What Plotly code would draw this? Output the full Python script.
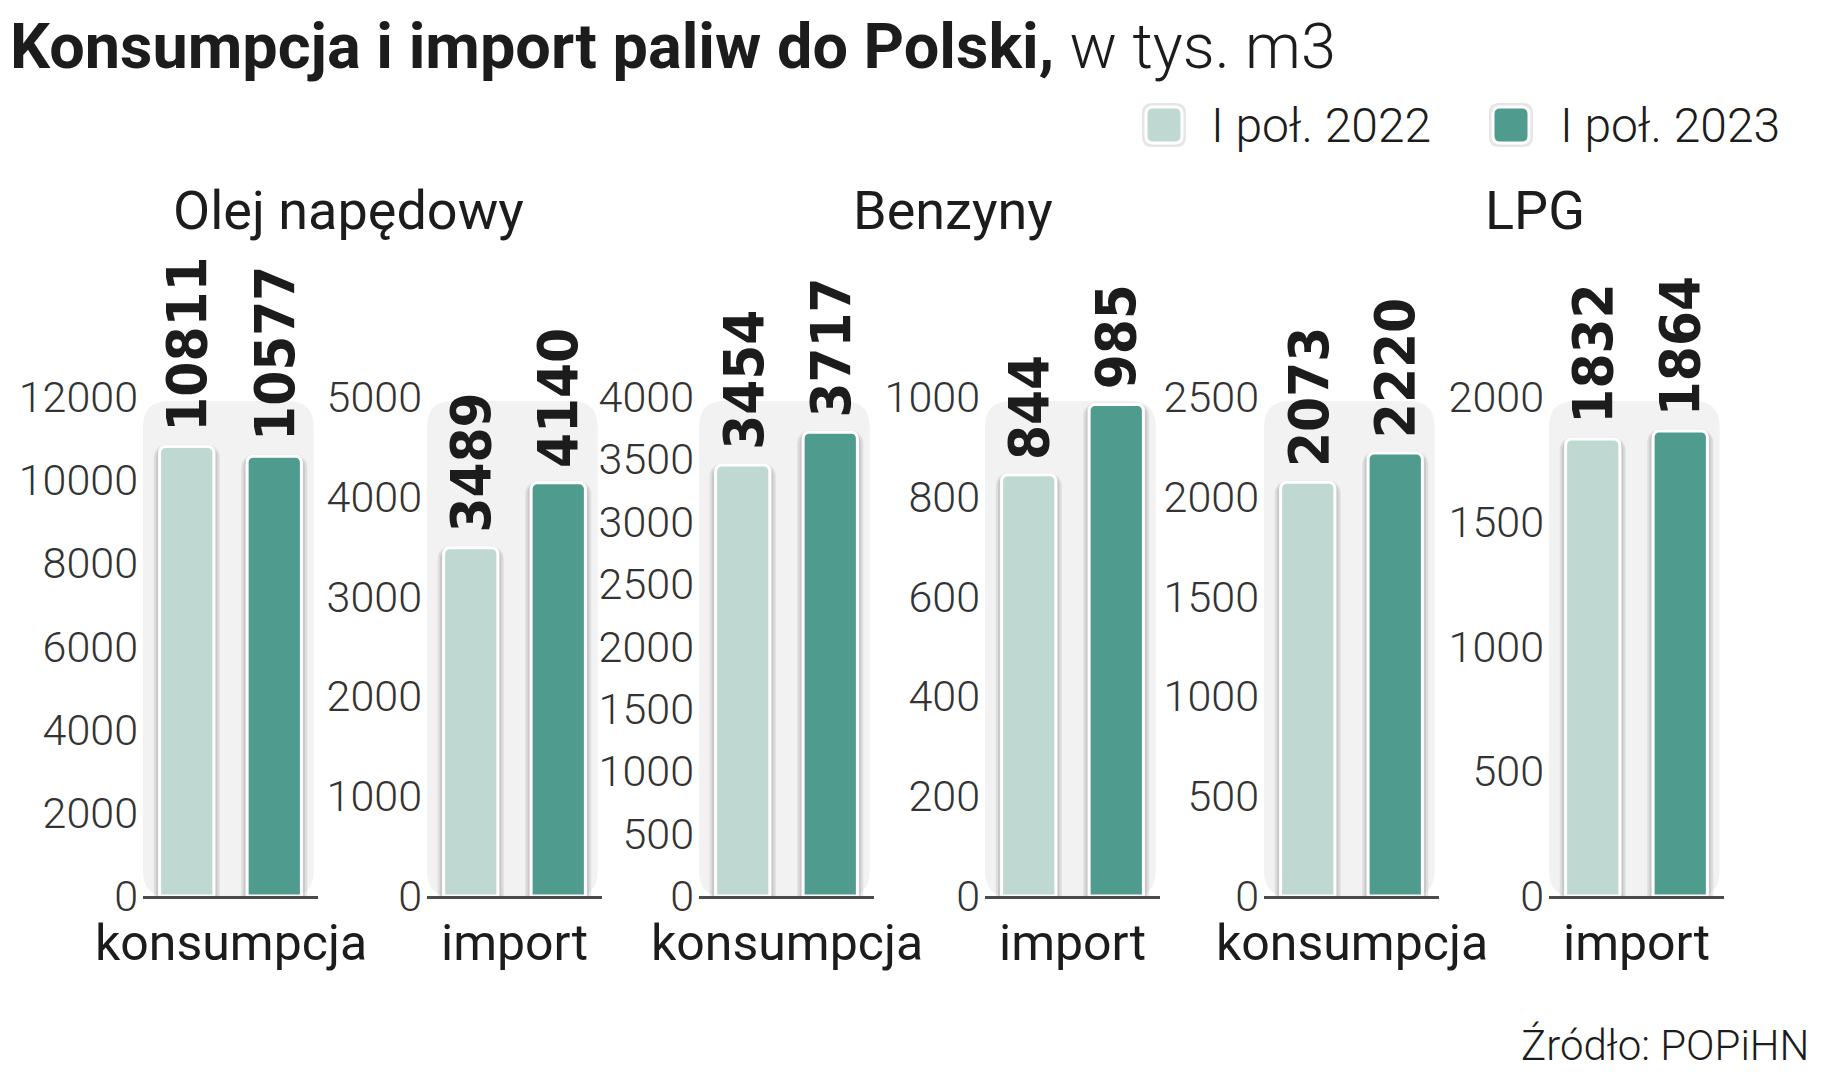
import plotly.graph_objects as go

W, H = 1823, 1080
BODY = 8  # default page body margin in the browser
FW, FH = W - 2 * BODY, H - 2 * BODY

# ---------------- data ----------------
groups = ["Olej napędowy", "Benzyny", "LPG"]
metrics = ["konsumpcja", "import", "konsumpcja", "import", "konsumpcja", "import"]
series = ["I poł. 2022", "I poł. 2023"]
v2022 = [10811, 3489, 3454, 844, 2073, 1832]
v2023 = [10577, 4140, 3717, 985, 2220, 1864]
ymax = [12000, 5000, 4000, 1000, 2500, 2000]
ystep = [2000, 1000, 500, 200, 500, 500]
source = "Źródło: POPiHN"
title_bold = "Konsumpcja i import paliw do Polski,"
title_rest = " w tys. m3"

# ---------------- styling / layout ----------------
colors = ["#bfd8d2", "#4f9b8e"]
panel_px = [(143, 318), (427, 602), (699, 874), (985, 1160), (1264, 1439), (1549, 1724)]
group_center_px = [348, 953, 1535]
y_top_px, y_bot_px = 397, 896
bg_top_px = 401

TXT = "#1c1c1c"
FONT = "Roboto"
NUMFONT = "DejaVu Sans Condensed, DejaVu Sans, Roboto"


def px(x):
    return (x - BODY) / FW


def py(y):
    return 1 - (y - BODY) / FH


def rrect(x0, y0, x1, y1, r):
    """rounded rect path in paper coords from screen pixel coords"""
    rx, ry = r / FW, r / FH
    X0, X1 = px(x0), px(x1)
    Y0, Y1 = py(y0), py(y1)  # Y0 top (larger), Y1 bottom
    return (f"M{X0+rx},{Y0} L{X1-rx},{Y0} Q{X1},{Y0} {X1},{Y0-ry} "
            f"L{X1},{Y1+ry} Q{X1},{Y1} {X1-rx},{Y1} L{X0+rx},{Y1} "
            f"Q{X0},{Y1} {X0},{Y1+ry} L{X0},{Y0-ry} Q{X0},{Y0} {X0+rx},{Y0} Z")


fig = go.Figure()
annotations = []
shapes = []
layout = {}

for i in range(6):
    n = "" if i == 0 else str(i + 1)
    xa, ya = "x" + n, "y" + n
    x0, x1 = panel_px[i]
    layout["xaxis" + n] = dict(domain=[px(x0), px(x1)], range=[-0.5, 1.5], anchor=ya,
                               showline=True, linecolor="#4a4a4a", linewidth=2.5,
                               showticklabels=False, showgrid=False, zeroline=False,
                               ticks="", fixedrange=True, automargin=False)
    layout["yaxis" + n] = dict(domain=[py(y_bot_px), py(y_top_px)], range=[0, ymax[i]],
                               tick0=0, dtick=ystep[i], tickformat="d", anchor=xa,
                               showgrid=False, zeroline=False, showline=False,
                               ticks="", ticklabelstandoff=4,
                               tickfont=dict(family=FONT, size=43, color="#333333", weight=300),
                               fixedrange=True, automargin=False)
    # panel background
    shapes.append(dict(type="path", xref="paper", yref="paper", layer="below",
                       path=rrect(x0, bg_top_px, x0 + 0.975 * (x1 - x0), y_bot_px + 1, 26),
                       fillcolor="#f2f2f2", line=dict(width=0)))
    for k, vals in enumerate([v2022, v2023]):
        fig.add_trace(go.Bar(x=[k], y=[vals[i]], width=0.76, xaxis=xa, yaxis=ya,
                             marker=dict(color="rgba(0,0,0,0.04)", cornerradius=12,
                                         line=dict(width=0)),
                             showlegend=False, hoverinfo="skip"))
        fig.add_trace(go.Bar(x=[k], y=[vals[i]], width=0.70, xaxis=xa, yaxis=ya,
                             marker=dict(color="rgba(0,0,0,0.09)", cornerradius=10,
                                         line=dict(width=4, color="rgba(0,0,0,0.05)")),
                             showlegend=False, hoverinfo="skip"))
        fig.add_trace(go.Bar(x=[k], y=[vals[i]], width=0.62, xaxis=xa, yaxis=ya, name=series[k],
                             marker=dict(color=colors[k], cornerradius=6,
                                         line=dict(width=3, color="white")),
                             showlegend=False))
        annotations.append(dict(x=k, y=vals[i], xref=xa, yref=ya, text=f"<b>{vals[i]}</b>",
                                textangle=-90, xanchor="center", yanchor="bottom", yshift=13,
                                showarrow=False,
                                font=dict(family=NUMFONT, size=56, color=TXT)))
    # category label
    annotations.append(dict(x=0.5, y=py(943), xref=f"x{n} domain" if n else "x domain", yref="paper",
                            text=metrics[i], showarrow=False, xanchor="center", yanchor="middle",
                            font=dict(family=FONT, size=50, color=TXT)))

# group titles
for g, cx in zip(groups, group_center_px):
    annotations.append(dict(x=px(cx), y=py(211), xref="paper", yref="paper", text=g,
                            showarrow=False, xanchor="center", yanchor="middle",
                            font=dict(family=FONT, size=54, color=TXT)))

# title
annotations.append(dict(x=px(8), y=py(47), xref="paper", yref="paper",
                        text=f"<b>{title_bold}</b>{title_rest}", showarrow=False,
                        xanchor="left", yanchor="middle",
                        font=dict(family=FONT, size=63, color=TXT, weight=300)))

# legend (custom)
leg_sq = [(1164, 125), (1511, 125)]
leg_tx = [1209, 1558]
for k in range(2):
    cx, cy = leg_sq[k]
    shapes.append(dict(type="path", xref="paper", yref="paper",
                       path=rrect(cx - 22, cy - 22, cx + 22, cy + 22, 10),
                       fillcolor="rgba(0,0,0,0.10)", line=dict(width=0)))
    shapes.append(dict(type="path", xref="paper", yref="paper",
                       path=rrect(cx - 18, cy - 18, cx + 18, cy + 18, 7),
                       fillcolor=colors[k], line=dict(width=3, color="white")))
    annotations.append(dict(x=px(leg_tx[k]), y=py(125), xref="paper", yref="paper",
                            text=series[k], showarrow=False, xanchor="left", yanchor="middle",
                            font=dict(family=FONT, size=48, color=TXT, weight=300)))

# source
annotations.append(dict(x=px(1811), y=py(1045), xref="paper", yref="paper", text=source,
                        showarrow=False, xanchor="right", yanchor="middle",
                        font=dict(family=FONT, size=42, color=TXT, weight=300)))

fig.update_layout(template="none", width=FW, height=FH,
                  margin=dict(l=0, r=0, t=0, b=0, autoexpand=False),
                  paper_bgcolor="white", plot_bgcolor="rgba(0,0,0,0)",
                  barmode="overlay", showlegend=False,
                  annotations=annotations, shapes=shapes, **layout)

fig.write_html("out.html")
